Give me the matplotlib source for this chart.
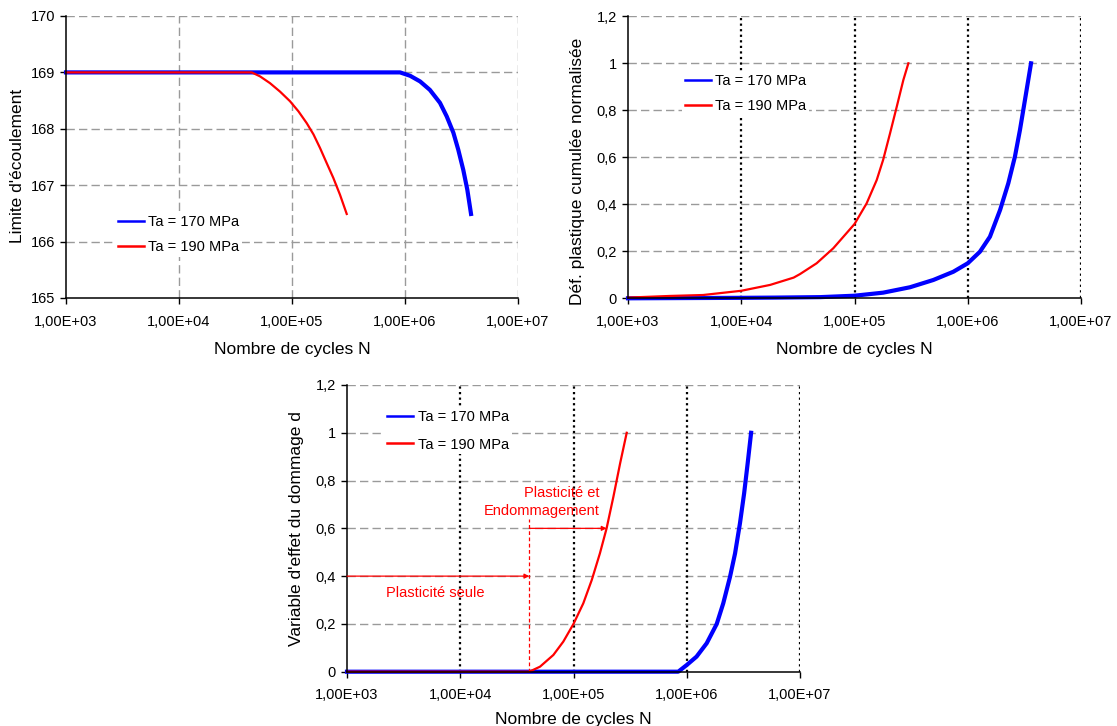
"""
Fatigue curves: yield limit, cumulated plastic strain and damage variable
versus number of cycles, for two stress amplitudes.
"""

import matplotlib
matplotlib.use("Agg")
import matplotlib.pyplot as plt
import matplotlib.ticker as mticker

plt.rcParams["font.family"] = ["Liberation Sans", "DejaVu Sans"]

BLUE = "#0000FF"
RED = "#FF0000"
LABELS = ["Ta = 170 MPa", "Ta = 190 MPa"]

X_TICKS = [1e3, 1e4, 1e5, 1e6, 1e7]
X_TICK_LABELS = ["1,00E+03", "1,00E+04", "1,00E+05", "1,00E+06", "1,00E+07"]
X_LABEL = "Nombre de cycles N"

# ── Panel 1: limite d'écoulement ─────────────────────────────────────────────
yl_n_170 = [1e3, 9.04e5, 1.11e6, 1.36e6, 1.66e6, 2.04e6, 2.34e6, 2.68e6,
            2.96e6, 3.28e6, 3.56e6, 3.84e6]
yl_v_170 = [169, 169, 168.94, 168.84, 168.69, 168.46, 168.22, 167.93,
            167.63, 167.27, 166.92, 166.49]
yl_n_190 = [1e3, 4.40e4, 5.21e4, 6.38e4, 7.83e4, 9.59e4, 1.14e5, 1.35e5,
            1.55e5, 1.77e5, 2.03e5, 2.32e5, 2.66e5, 3.05e5]
yl_v_190 = [169, 169, 168.93, 168.81, 168.66, 168.49, 168.31, 168.10,
            167.90, 167.66, 167.39, 167.13, 166.83, 166.49]
yl_ticks = [165, 166, 167, 168, 169, 170]

# ── Panel 2: déformation plastique cumulée normalisée ───────────────────────
p_n_170 = [1e3, 1e4, 2e4, 5e4, 1e5, 1.79e5, 3.09e5, 4.97e5, 7.46e5, 1e6,
           1.28e6, 1.57e6, 1.93e6, 2.28e6, 2.61e6, 2.89e6, 3.20e6, 3.62e6]
p_v_170 = [0.0, 0.002, 0.003, 0.005, 0.011, 0.024, 0.047, 0.078, 0.113, 0.149,
           0.198, 0.262, 0.376, 0.489, 0.603, 0.716, 0.844, 1.0]
p_n_190 = [1e3, 2.35e3, 4.6e3, 1e4, 1.8e4, 2.9e4, 3.30e4, 4.63e4, 6.50e4, 1e5,
           1.28e5, 1.57e5, 1.79e5, 2.06e5, 2.36e5, 2.70e5, 2.99e5]
p_v_190 = [0.003, 0.01, 0.014, 0.032, 0.057, 0.088, 0.103, 0.149, 0.213, 0.316,
           0.404, 0.503, 0.589, 0.702, 0.815, 0.929, 1.0]

# ── Panel 3: variable d'effet du dommage d ───────────────────────────────────
d_n_170 = [1e3, 8.41e5, 1e6, 1.22e6, 1.50e6, 1.84e6, 2.10e6, 2.41e6, 2.67e6,
           2.95e6, 3.21e6, 3.45e6, 3.70e6]
d_v_170 = [0, 0, 0.028, 0.063, 0.119, 0.2, 0.286, 0.397, 0.495, 0.621, 0.746,
           0.872, 1.0]
d_n_190 = [1e3, 4.07e4, 5.06e4, 6.64e4, 8.13e4, 1e5, 1.22e5, 1.45e5, 1.71e5,
           1.96e5, 2.25e5, 2.58e5, 2.95e5]
d_v_190 = [0, 0, 0.021, 0.07, 0.126, 0.2, 0.286, 0.384, 0.495, 0.6, 0.732,
           0.872, 1.0]
frac_ticks = [0, 0.2, 0.4, 0.6, 0.8, 1.0, 1.2]

W, H = 1117, 726
fig = plt.figure(figsize=(W / 100, H / 100), dpi=100)


def px_axes(x0, y0, x1, y1):
    return fig.add_axes([x0 / W, 1 - y1 / H, (x1 - x0) / W, (y1 - y0) / H])


def comma(v, _):
    return f"{v:g}".replace(".", ",")


def style(ax, ylim, yticks, ylabel, dotted_x):
    ax.set_xscale("log")
    ax.set_xlim(1e3, 1e7)
    ax.set_ylim(*ylim)
    ax.set_xticks(X_TICKS)
    ax.set_xticklabels(X_TICK_LABELS)
    ax.xaxis.set_minor_locator(mticker.NullLocator())
    ax.set_yticks(yticks)
    ax.yaxis.set_major_formatter(mticker.FuncFormatter(comma))
    ax.tick_params(axis="both", direction="out", length=4, width=1, labelsize=10.5)
    ax.tick_params(axis="x", pad=8)
    ax.tick_params(axis="y", pad=4)
    ax.spines[["top", "right"]].set_visible(False)
    ax.spines[["left", "bottom"]].set_linewidth(1.1)
    dash = dict(color="#9a9a9a", lw=1.0, ls=(0, (6, 3)), zorder=0.5)
    for y in yticks[1:]:
        ax.axhline(y, **dash)
    for x in X_TICKS[1:]:
        if dotted_x:
            ax.axvline(x, color="black", lw=1.6, ls=(0, (1, 1.5)), zorder=0.5)
        else:
            ax.axvline(x, **dash)
    ax.set_xlabel(X_LABEL, fontsize=12.5)
    ax.set_ylabel(ylabel, fontsize=12.5)
    ax.xaxis.set_label_coords(0.5, -0.155)


def legend(ax, x, y, spacing=0.75):
    lg = ax.legend(loc="upper left", bbox_to_anchor=(x, y), fontsize=10.5,
                   frameon=True, facecolor="white", edgecolor="none", framealpha=1,
                   borderpad=0.2, borderaxespad=0, handlelength=1.8,
                   handletextpad=0.3, labelspacing=spacing)
    lg.get_frame().set_boxstyle("square", pad=0)
    for h in lg.legend_handles:
        h.set_linewidth(1.8)


# Panel 1
ax1 = px_axes(66, 16, 518, 298)
ax1.plot(yl_n_170, yl_v_170, color=BLUE, lw=3.0, label=LABELS[0], clip_on=False)
ax1.plot(yl_n_190, yl_v_190, color=RED, lw=1.6, label=LABELS[1], clip_on=False)
style(ax1, (165, 170), yl_ticks, "Limite d'écoulement", False)
ax1.yaxis.set_label_coords(-0.09, 0.47)
legend(ax1, 0.108, 0.305)

# Panel 2
ax2 = px_axes(628, 16.3, 1081, 298.3)
ax2.plot(p_n_170, p_v_170, color=BLUE, lw=3.0, label=LABELS[0], clip_on=False)
ax2.plot(p_n_190, p_v_190, color=RED, lw=1.6, label=LABELS[1], clip_on=False)
style(ax2, (0, 1.2), frac_ticks, "Déf. plastique cumulée normalisée", True)
ax2.yaxis.set_label_coords(-0.096, 0.45)
legend(ax2, 0.119, 0.806)

# Panel 3
ax3 = px_axes(347, 385, 800, 671.7)
ax3.plot(d_n_170, d_v_170, color=BLUE, lw=3.0, label=LABELS[0], clip_on=False)
ax3.plot(d_n_190, d_v_190, color=RED, lw=1.6, label=LABELS[1], clip_on=False)
style(ax3, (0, 1.2), frac_ticks, "Variable d'effet du dommage d", True)
ax3.yaxis.set_label_coords(-0.094, 0.5)
ax3.xaxis.set_label_coords(0.5, -0.14)
legend(ax3, 0.082, 0.924, spacing=0.95)

# annotations: damage onset for Ta = 190 MPa
n_onset = d_n_190[1]
i_arrow = d_v_190.index(0.6)
arrow = dict(arrowstyle="-|>", color=RED, lw=0.9, mutation_scale=7, shrinkA=0, shrinkB=0)
ax3.plot([n_onset, n_onset], [0, 0.64], color=RED, lw=0.9, ls=(0, (3, 2)))
ax3.annotate("", xy=(n_onset, 0.4), xytext=(1e3, 0.4), arrowprops=arrow)
ax3.annotate("", xy=(d_n_190[i_arrow], d_v_190[i_arrow]),
             xytext=(n_onset, d_v_190[i_arrow]), arrowprops=arrow)
ax3.text(6.0e3, 0.33, "Plasticité seule", color=RED, fontsize=10.5,
         ha="center", va="center")
ax3.text(1.69e5, 0.71, "Plasticité et\nEndommagement", color=RED, fontsize=10.5,
         ha="right", va="center", multialignment="right", linespacing=1.3)

fig.savefig("out.png", dpi=100)
